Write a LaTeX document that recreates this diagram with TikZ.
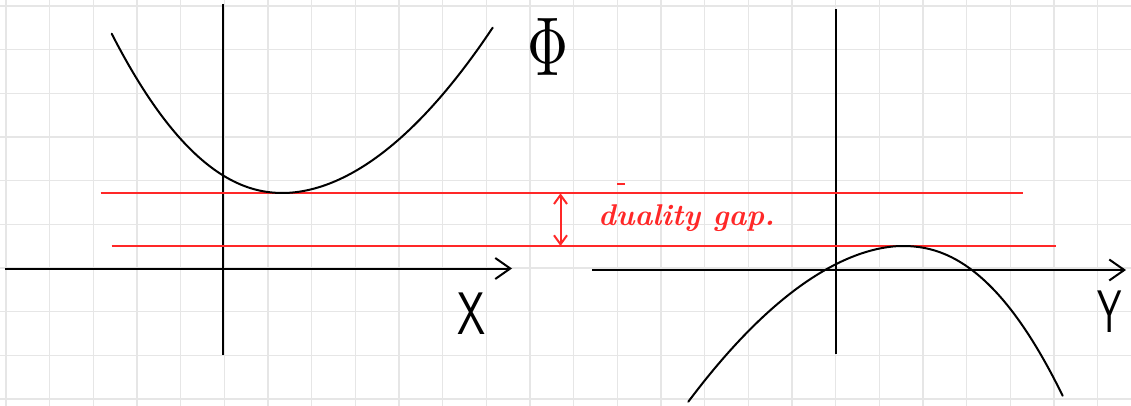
\documentclass[tikz,border=0pt]{standalone}
\usetikzlibrary{arrows.meta}
\definecolor{gridgray}{RGB}{230,230,230}
\definecolor{penred}{RGB}{255,40,40}
\begin{document}
\begin{tikzpicture}[x=1pt,y=-1pt,
  gridline/.style={draw=gridgray,line width=1.4pt},
  axisline/.style={draw=black,line width=2pt},
  axisarrow/.style={axisline,-{Straight Barb[length=15pt,width=21pt,line width=2pt]}},
  curveline/.style={draw=black,line width=2pt,line cap=round,line join=round},
  redline/.style={draw=penred,line width=2pt},
  redarrow/.style={redline,{Straight Barb[length=9pt,width=13pt,line width=2pt]}-{Straight Barb[length=9pt,width=13pt,line width=2pt]}},
  handlabel/.style={inner sep=0pt,font=\fontsize{60}{60}\selectfont\sffamily}
]
\useasboundingbox (0,0) rectangle (1131,406);
\fill[white] (0,0) rectangle (1131,406);
% grid
\foreach \i in {0,...,25} {
  \draw[gridline] ({6+43.67*\i},0) -- ({6+43.67*\i},406);
}
\foreach \j in {0,...,9} {
  \draw[gridline] (0,{6+43.67*\j}) -- (1131,{6+43.67*\j});
}
% left axes
\coordinate (lxs) at (5,268.5);
\coordinate (lxe) at (512,268.5);
\coordinate (lyt) at (223.3,4);
\coordinate (lyb) at (223.3,355);
\draw[axisarrow] (lxs) -- (lxe);
\draw[axisline] (lyt) -- (lyb);
% right axes
\coordinate (rxs) at (592,270);
\coordinate (rxe) at (1126,270);
\coordinate (ryt) at (836,9);
\coordinate (ryb) at (836,353.5);
\draw[axisarrow] (rxs) -- (rxe);
\draw[axisline] (ryt) -- (ryb);
% red levels
\coordinate (t1) at (100.7,193.3);
\coordinate (t2) at (1023.3,193.3);
\coordinate (b1) at (111.7,246);
\coordinate (b2) at (1056,246);
\draw[redline] (t1) -- (t2);
\draw[redline] (b1) -- (b2);
\coordinate (gt) at (560.5,193.3);
\coordinate (gb) at (560.5,246);
\draw[redarrow] (gt) -- (gb);
\coordinate (m1) at (617,184);
\coordinate (m2) at (625,184);
\draw[draw=penred,line width=1.2pt] (m1) -- (m2);
% curves
\draw[curveline] plot[domain=1.713:0.001,samples=60] ({283-100*\x},{193-51.45*(\x)^2.1})
  -- plot[domain=0.001:2.097,samples=60] ({283+100*\x},{193-40.5*(\x)^1.9});
\draw[curveline] plot[domain=2.137:0.001,samples=60] ({902-100*\x},{246+38.8*(\x)^1.83})
  -- plot[domain=0.001:1.607,samples=60] ({902+100*\x},{246+52.8*(\x)^2.2});
% labels
\node[inner sep=0pt] (phi) at (548,46.5) {\resizebox{41pt}{57pt}{$\Phi$}};
\node[handlabel,xscale=0.75] (xl) at (472,314) {X};
\node[handlabel,xscale=0.65] (yl) at (1110,312) {Y};
\node[inner sep=0pt,anchor=base west,text=penred,font=\fontsize{30}{30}\selectfont\bfseries\itshape] (gap) at (598,225) {duality gap.};
\end{tikzpicture}
\end{document}
